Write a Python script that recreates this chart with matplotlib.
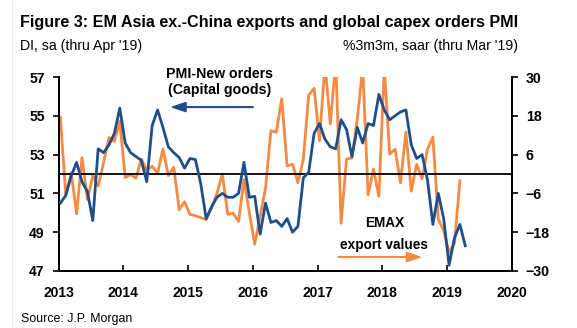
import numpy as np
import matplotlib
matplotlib.use("Agg")
import matplotlib.pyplot as plt
from matplotlib.lines import Line2D

plt.rcParams["font.family"] = ["Liberation Sans", "DejaVu Sans"]

BLUE = "#1f4e8a"
ORANGE = "#f78a42"

# Global capex new orders PMI, monthly Jan-2013 .. Apr-2019 (DI, sa)
pmi = [
    50.5, 50.9, 51.9, 52.6, 51.6, 51.1, 49.6, 53.3, 53.1, 53.5, 54.1, 55.4,
    53.6, 53.1, 52.9, 52.7, 51.6, 54.5, 55.3, 54.4, 53.4, 53.1, 52.85, 52.3,
    52.8, 52.75, 51.5, 49.7, 50.3, 50.8, 51.0, 50.8, 50.8, 51.0, 52.6, 50.8,
    50.85, 48.9, 50.5, 49.5, 49.6, 49.3, 49.7, 49.0, 49.3, 51.8, 52.1, 54.1,
    54.6, 53.8, 53.4, 53.3, 54.8, 54.3, 52.9, 54.4, 53.6, 54.6, 54.5, 56.1,
    55.3, 54.8, 55.0, 55.2, 55.3, 53.5, 52.8, 53.0, 51.7, 49.4, 51.0, 49.7,
    47.3, 48.7, 49.4, 48.3,
]

# EM Asia ex-China export values, %3m3m saar, monthly Jan-2013 .. Mar-2019
emax = [
    17.6, -6.6, 0.4, -12.3, 5.1, -7.9, -0.5, -3.7, 3.5, 11.3, 10.1, 16.3,
    -1.1, -0.2, -1.3, 4.6, 1.2, 2.4, 0.2, 7.8, -0.5, 2.1, -11.0, -8.6,
    -12.5, -12.9, -13.5, -14.1, -10.5, -6.0, 0.0, -12.5, -12.1, -14.7, -1.7, -12.0,
    -21.7, -13.0, -4.3, 13.4, 12.9, 23.3, 2.5, 3.0, -2.7, 4.6, 24.4, 26.5,
    10.3, 34.0, 15.5, 35.0, -15.2, 4.6, 5.0, 17.0, 33.0, -6.4, 1.5, -6.9,
    33.0, 6.1, 7.7, -2.7, 13.0, -5.3, 3.0, -1.5, 7.7, 11.4, -14.0, -17.5,
    -24.4, -21.4, -2.1,
]

years = [2013, 2014, 2015, 2016, 2017, 2018, 2019, 2020]
left_ticks = [47, 49, 51, 53, 55, 57]
right_ticks = [-30, -18, -6, 6, 18, 30]

x_pmi = 2013 + (np.arange(len(pmi)) + 0.35) / 12
x_emax = 2013 + (np.arange(len(emax)) + 0.35) / 12

fig = plt.figure(figsize=(5.77, 3.28), dpi=100)
ax = fig.add_axes([0.1014, 0.1738, 0.7859, 0.5914])
ax2 = ax.twinx()

ax.set_xlim(2013, 2020)
ax.set_ylim(47, 57)
ax2.set_ylim(-30, 30)

ax.axhline(52, color="black", lw=1.3, zorder=1)
ax.plot(x_pmi, pmi, color=BLUE, lw=2.0, zorder=3)
ax2.plot(x_emax, emax, color=ORANGE, lw=2.0, zorder=2)
ax.set_zorder(ax2.get_zorder() + 1)
ax.patch.set_visible(False)

for a in (ax, ax2):
    a.spines["top"].set_visible(False)
    for s in ("left", "right", "bottom"):
        a.spines[s].set_linewidth(1.3)

ax.set_xticks(years)
ax.set_xticklabels([str(y) for y in years])
ax.set_yticks(left_ticks)
ax2.set_yticks(right_ticks)
ax.tick_params(axis="x", direction="in", length=4, width=1.2, pad=11,
               labelsize=10)
ax.tick_params(axis="y", direction="out", length=4, width=1.2, pad=6,
               labelsize=10)
ax2.tick_params(axis="y", direction="out", length=4, width=1.2, pad=6,
                labelsize=10.2)
for lab in ax.get_xticklabels() + ax.get_yticklabels() + ax2.get_yticklabels():
    lab.set_fontweight("bold")

# series labels with direction arrows
ax.text(2015.49, 56.75, "PMI-New orders\n(Capital goods)", ha="center",
        va="center", fontsize=10.2, fontweight="bold", linespacing=1.15,
        clip_on=False, zorder=5)
ax.annotate("", xy=(2014.72, 55.45), xytext=(2016.0, 55.45),
            arrowprops=dict(arrowstyle="-|>,head_length=0.9,head_width=0.3",
                            color=BLUE, lw=1.5, shrinkA=0, shrinkB=0))
ax.text(2018.03, 49.45, "EMAX", ha="center", va="center", fontsize=9.8,
        fontweight="bold", zorder=5)
ax.text(2018.03, 48.33, "export values", ha="center", va="center",
        fontsize=9.8, fontweight="bold", zorder=5)
ax.annotate("", xy=(2018.62, 47.72), xytext=(2017.32, 47.72),
            arrowprops=dict(arrowstyle="-|>,head_length=0.9,head_width=0.3",
                            color=ORANGE, lw=1.5, shrinkA=0, shrinkB=0))

fig.text(0.035, 0.93, "Figure 3: EM Asia ex.-China exports and global capex orders PMI",
         ha="left", va="center", fontsize=11.6, fontweight="bold")
fig.text(0.035, 0.86, "DI, sa (thru Apr '19)", ha="left", va="center",
         fontsize=10.2)
fig.text(0.898, 0.86, "%3m3m, saar (thru Mar '19)", ha="right", va="center",
         fontsize=10.2)
fig.text(0.037, 0.027, "Source: J.P. Morgan", ha="left", va="center",
         fontsize=8.9)

fig.add_artist(Line2D([0.021, 0.021], [0.0, 1.0], color="#ececec", lw=0.8))

fig.savefig("out.png", dpi=100)
